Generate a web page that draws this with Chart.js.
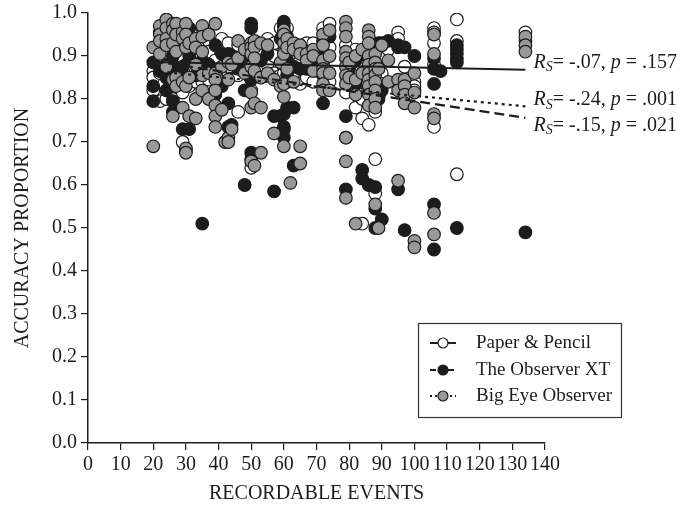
<!DOCTYPE html>
<html>
<head>
<meta charset="utf-8">
<script src="https://cdn.jsdelivr.net/npm/chart.js@4.4.1/dist/chart.umd.min.js"></script>
<style>
  html, body { margin: 0; padding: 0; background: #fff; }
  #wrap { width: 685px; height: 508px; }
</style>
</head>
<body>
<div id="wrap"><canvas id="chart"></canvas></div>
<script>
// --- data: [recordable events, accuracy proportion] ---

const paperPencil = [
  [20,.865],[20,.85],[20,.82],[22,.86],[22,.795],[24,.80],[26,.80],[27,.955],[27,.87],
  [29,.92],[29,.86],[29,.815],[29,.70],[30,.88],[30,.68],[31,.87],[31,.83],[33,.955],
  [33,.90],[33,.865],[33,.84],[35,.965],[35,.865],[35,.84],[37,.935],[37,.91],[37,.845],
  [39,.89],[41,.94],[41,.855],[43,.93],[43,.86],[44,.87],[46,.925],[46,.855],[46,.77],
  [48,.885],[50,.82],[50,.64],[51,.875],[53,.91],[53,.865],[55,.94],[55,.88],[57,.93],
  [57,.90],[57,.86],[57,.85],[59,.965],[59,.855],[60,.86],[60,.91],[61,.965],[61,.905],
  [61,.84],[63,.895],[63,.86],[65,.89],[65,.835],[67,.93],[67,.85],[69,.93],[69,.84],
  [72,.965],[72,.88],[74,.975],[74,.92],[74,.84],[79,.925],[79,.815],[79,.71],[80,.90],
  [82,.915],[82,.865],[82,.82],[82,.78],[84,.88],[84,.84],[84,.80],[84,.51],[84,.755],
  [86,.74],[88,.77],[88,.58],[88,.66],[90,.86],[90,.835],[92,.915],[95,.955],[95,.94],
  [95,.84],[97,.875],[100,.84],[100,.83],[100,.82],[106,.965],[106,.955],[106,.93],
  [106,.88],[106,.735],[113,.985],[113,.935],[113,.625],[134,.955],[134,.935]
];

const observerXT = [
  [20,.885],[20,.83],[20,.795],[22,.955],[22,.865],[24,.88],[24,.85],[24,.82],[26,.90],
  [26,.88],[26,.84],[26,.795],[26,.77],[27,.86],[29,.97],[29,.875],[29,.73],[30,.93],
  [30,.85],[31,.965],[31,.90],[31,.73],[33,.855],[35,.89],[35,.51],[37,.88],[39,.925],
  [39,.81],[41,.905],[41,.83],[43,.905],[43,.895],[43,.79],[43,.735],[44,.90],[44,.74],
  [46,.88],[46,.87],[48,.90],[48,.82],[48,.60],[50,.975],[50,.965],[50,.845],[50,.675],
  [50,.66],[53,.89],[55,.905],[57,.76],[57,.585],[59,.94],[59,.76],[60,.98],[60,.97],
  [60,.88],[60,.765],[60,.735],[60,.71],[60,.73],[61,.945],[61,.89],[61,.855],[61,.78],
  [63,.875],[63,.645],[63,.78],[65,.87],[67,.87],[69,.885],[72,.935],[72,.91],[72,.855],
  [72,.79],[74,.945],[79,.76],[79,.59],[80,.87],[82,.89],[82,.835],[84,.905],[84,.635],
  [84,.615],[86,.915],[86,.895],[86,.60],[88,.925],[88,.595],[88,.545],[88,.50],[89,.93],
  [89,.80],[90,.93],[90,.82],[90,.52],[92,.935],[95,.925],[95,.92],[95,.59],[97,.92],
  [97,.83],[97,.495],[100,.90],[106,.895],[106,.87],[106,.835],[106,.555],[106,.45],
  [108,.865],[113,.925],[113,.915],[113,.905],[113,.895],[113,.885],[113,.50],[134,.49]
];

const bigEye = [
  [20,.92],[20,.69],[22,.97],[22,.95],[22,.935],[22,.905],[24,.985],[24,.965],[24,.94],
  [24,.925],[24,.875],[26,.975],[26,.96],[26,.93],[26,.845],[26,.76],[27,.975],[27,.95],
  [27,.91],[27,.85],[27,.83],[29,.955],[29,.94],[29,.84],[29,.78],[30,.975],[30,.95],
  [30,.92],[30,.83],[30,.685],[30,.675],[31,.93],[31,.85],[31,.76],[33,.94],[33,.92],
  [33,.88],[33,.80],[33,.755],[35,.97],[35,.945],[35,.91],[35,.855],[35,.82],[37,.95],
  [37,.86],[37,.80],[39,.975],[39,.86],[39,.845],[39,.82],[39,.785],[39,.76],[39,.735],
  [41,.875],[41,.775],[42,.70],[43,.885],[43,.845],[43,.71],[43,.70],[44,.88],[44,.73],
  [46,.935],[46,.895],[48,.915],[48,.86],[50,.93],[50,.92],[50,.905],[50,.875],[50,.815],
  [50,.78],[50,.655],[51,.935],[51,.92],[51,.895],[51,.865],[51,.79],[51,.645],[53,.93],
  [53,.85],[53,.675],[53,.78],[55,.925],[55,.86],[57,.845],[57,.72],[59,.885],[59,.83],
  [60,.96],[60,.95],[60,.93],[60,.905],[60,.835],[60,.805],[60,.69],[61,.94],[61,.92],
  [61,.87],[62,.605],[63,.93],[63,.915],[63,.84],[65,.925],[65,.905],[65,.65],[65,.69],
  [67,.905],[67,.89],[69,.915],[69,.90],[69,.865],[72,.95],[72,.925],[72,.89],[72,.87],
  [72,.86],[72,.835],[72,.82],[74,.96],[74,.90],[74,.86],[74,.82],[79,.98],[79,.965],
  [79,.945],[79,.91],[79,.895],[79,.875],[79,.855],[79,.835],[79,.655],[79,.57],[79,.71],
  [80,.885],[80,.85],[82,.90],[82,.845],[82,.81],[82,.51],[84,.915],[84,.86],[86,.96],
  [86,.945],[86,.93],[86,.90],[86,.88],[86,.86],[86,.845],[86,.83],[86,.81],[86,.785],
  [88,.905],[88,.885],[88,.87],[88,.855],[88,.84],[88,.82],[88,.80],[88,.78],[88,.555],
  [89,.87],[89,.50],[90,.925],[92,.89],[92,.84],[95,.845],[95,.82],[95,.61],[97,.845],
  [97,.83],[97,.81],[97,.79],[100,.86],[100,.815],[100,.78],[100,.47],[100,.455],
  [106,.95],[106,.905],[106,.765],[106,.755],[106,.535],[106,.485],[134,.945],[134,.925],
  [134,.91]
];

// fitted lines (end points)
const fitPaper = [[20, .886], [134, .868]];
const fitObserver = [[20, .888], [134, .756]];
const fitBigEye = [[20, .865], [134, .783]];

// R_S labels: [rs, p, x, y]
const statLabels = [
  ['-.07', '.157', 136.5, .885],
  ['-.24', '.001', 136.5, .798],
  ['-.15', '.021', 136.5, .738]
];

const legendNames = ['Paper & Pencil', 'The Observer XT', 'Big Eye Observer'];

const xTicks = [0, 10, 20, 30, 40, 50, 60, 70, 80, 90, 100, 110, 120, 130, 140];

const FONT = '"Liberation Serif", "DejaVu Serif", serif';
const INK = '#1c1c1c';

const pts = arr => arr.map(p => ({ x: p[0], y: p[1] }));

function scatterSet(label, data, fill, order) {
  return {
    label,
    data: pts(data),
    showLine: false,
    pointRadius: 6.3,
    pointBorderWidth: 1.2,
    pointBackgroundColor: fill,
    pointBorderColor: INK,
    order
  };
}

function lineSet(label, data, dash, width, order) {
  return {
    label,
    data: pts(data),
    showLine: true,
    borderColor: INK,
    borderWidth: width,
    borderDash: dash,
    pointRadius: 0,
    fill: false,
    order
  };
}

// --- plugin: R_S labels and boxed legend ---
const extras = {
  id: 'extras',
  afterDraw(chart) {
    const ctx = chart.ctx;
    const xs = chart.scales.x, ys = chart.scales.y;
    ctx.save();
    ctx.fillStyle = INK;
    ctx.textBaseline = 'middle';

    statLabels.forEach(([rs, p, vx, vy]) => {
      let x = xs.getPixelForValue(vx);
      const y = ys.getPixelForValue(vy);
      const parts = [
        ['italic 20px ' + FONT, 'R', 0],
        ['italic 14px ' + FONT, 'S', 5],
        ['20px ' + FONT, '= ' + rs + ', ', 0],
        ['italic 20px ' + FONT, 'p', 0],
        ['20px ' + FONT, ' = ' + p, 0]
      ];
      parts.forEach(([f, t, dy]) => {
        ctx.font = f;
        ctx.fillText(t, x, y + dy);
        x += ctx.measureText(t).width;
      });
    });

    // legend box
    const bx = 418, by = 323, bw = 203, bh = 94;
    ctx.strokeStyle = '#333';
    ctx.lineWidth = 1.2;
    ctx.strokeRect(bx + 0.5, by + 0.5, bw, bh);

    const rows = [343, 370, 396];
    const fills = ['#ffffff', INK, '#999999'];
    const dashes = [[], [6, 3], [2, 3]];
    rows.forEach((ry, i) => {
      ctx.strokeStyle = INK;
      ctx.lineWidth = 2;
      ctx.setLineDash(dashes[i]);
      ctx.beginPath();
      ctx.moveTo(430, ry);
      ctx.lineTo(456, ry);
      ctx.stroke();
      ctx.setLineDash([]);
      ctx.beginPath();
      ctx.arc(443, ry, 5, 0, Math.PI * 2);
      ctx.fillStyle = fills[i];
      ctx.fill();
      ctx.lineWidth = 1.2;
      ctx.stroke();
      ctx.fillStyle = INK;
      ctx.font = '19px ' + FONT;
      ctx.fillText(legendNames[i], 476, ry);
    });
    ctx.restore();
  }
};

new Chart(document.getElementById('chart'), {
  type: 'scatter',
  data: {
    datasets: [
      lineSet('fit paper', fitPaper, [], 2, 0),
      lineSet('fit observer', fitObserver, [10, 5], 2.2, 0),
      lineSet('fit big eye', fitBigEye, [3, 4], 2.2, 0),
      scatterSet(legendNames[2], bigEye, '#999999', 1),
      scatterSet(legendNames[1], observerXT, INK, 2),
      scatterSet(legendNames[0], paperPencil, '#ffffff', 3)
    ]
  },
  plugins: [extras],
  options: {
    responsive: true,
    maintainAspectRatio: false,
    animation: false,
    layout: { padding: { left: 11, right: 140, top: 0, bottom: 2 } },
    plugins: {
      legend: { display: false },
      tooltip: { enabled: false }
    },
    scales: {
      x: {
        type: 'linear',
        min: 0,
        max: 140,
        afterBuildTicks: axis => { axis.ticks = xTicks.map(v => ({ value: v })); },
        ticks: {
          autoSkip: false,
          maxRotation: 0,
          color: INK,
          padding: 3,
          font: { family: FONT, size: 20 }
        },
        grid: { drawOnChartArea: false, tickLength: 7, color: INK, lineWidth: 1.2 },
        border: { color: INK, width: 1.5 },
        title: {
          display: true,
          text: 'RECORDABLE EVENTS',
          color: INK,
          font: { family: FONT, size: 20 },
          padding: { top: 2, bottom: 0 }
        }
      },
      y: {
        min: 0,
        max: 1,
        ticks: {
          stepSize: 0.1,
          color: INK,
          padding: 4,
          font: { family: FONT, size: 20, lineHeight: 0.9 },
          callback: v => v.toFixed(1)
        },
        grid: { drawOnChartArea: false, tickLength: 7, color: INK, lineWidth: 1.2 },
        border: { color: INK, width: 1.5 },
        title: {
          display: true,
          text: 'ACCURACY PROPORTION',
          color: INK,
          font: { family: FONT, size: 20 },
          padding: { top: 0, bottom: 13 }
        }
      }
    }
  }
});
</script>
</body>
</html>
